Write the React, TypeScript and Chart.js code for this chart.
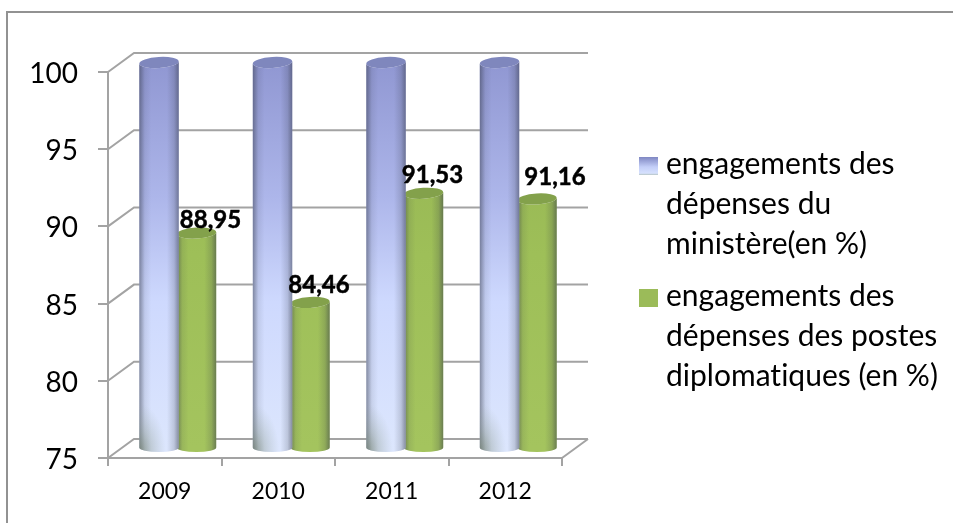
import React, { useEffect, useRef } from "react";
import { Chart, BarController, BarElement, registerables } from "chart.js";

const years = ["2009", "2010", "2011", "2012"];
const ministere = [100, 100, 100, 100];
const postes = [88.95, 84.46, 91.53, 91.16];
const yTicks = [75, 80, 85, 90, 95, 100];
const legendMinistere = ["engagements des", "dépenses du", "ministère(en %)"];
const legendPostes = ["engagements des", "dépenses des postes", "diplomatiques (en %)"];

// Hand placement of the value captions relative to the top of each green bar.
const captionShiftX = [14, 9, 9, 18];
const captionShiftY = [5, 9, 10, 13.5];

const FONT = "Lato";
const AXIS_GREY = "#a3a3a3";
const DEPTH_X = 26;
const DEPTH_Y = -19;
const CAP_RY = 5.5;
const CAP_TILT = -0.06;

const looks = [
  {
    cap: "#7f87bd",
    stops: [
      [0, "#9097d2"],
      [0.35, "#adb6ea"],
      [0.62, "#ced9fe"],
      [1, "#dce6fd"],
    ],
    foot: true,
  },
  {
    cap: "#83a14b",
    stops: [
      [0, "#92b152"],
      [0.5, "#9ebf58"],
      [1, "#a4c45e"],
    ],
    foot: false,
  },
];

// A bar drawn as an upright cylinder with an elliptical cap.
class CylinderElement extends BarElement {
  static id = "cylinder";
  static defaults = { ...BarElement.defaults };

  draw(ctx: CanvasRenderingContext2D) {
    const { x, y, base, width } = (this as any).getProps(["x", "y", "base", "width"]);
    const look = looks[(this as any).seriesIndex];
    const scale = (this as any).valueScale;
    const left = x - width / 2;
    const right = x + width / 2;
    const rx = width / 2;

    const outline = () => {
      ctx.beginPath();
      ctx.moveTo(left, y);
      ctx.lineTo(left, base);
      ctx.ellipse(x, base, rx, 4.5, 0, Math.PI, 0, true);
      ctx.lineTo(right, y);
      ctx.ellipse(x, y, rx, CAP_RY, CAP_TILT, 0, Math.PI, false);
      ctx.closePath();
    };

    ctx.save();
    const body = ctx.createLinearGradient(0, scale.top, 0, scale.bottom);
    look.stops.forEach(([at, colour]) => body.addColorStop(at as number, colour as string));
    outline();
    ctx.fillStyle = body;
    ctx.fill();

    const sides = ctx.createLinearGradient(left, 0, right, 0);
    sides.addColorStop(0, "rgba(50,55,70,0.5)");
    sides.addColorStop(0.14, "rgba(50,55,70,0.1)");
    sides.addColorStop(0.3, "rgba(50,55,70,0)");
    sides.addColorStop(0.7, "rgba(50,55,70,0)");
    sides.addColorStop(0.88, "rgba(50,55,70,0.18)");
    sides.addColorStop(1, "rgba(50,55,70,0.5)");
    outline();
    ctx.fillStyle = sides;
    ctx.fill();

    if (look.foot) {
      // Soft shadow at the foot of the cylinder, narrower than it is tall.
      outline();
      ctx.save();
      ctx.clip();
      ctx.translate(left, base + 4);
      ctx.scale(0.55, 1);
      const foot = ctx.createRadialGradient(0, 0, 0, 0, 0, 48);
      foot.addColorStop(0, "rgba(115,130,110,0.7)");
      foot.addColorStop(0.45, "rgba(130,145,130,0.32)");
      foot.addColorStop(1, "rgba(150,165,160,0)");
      ctx.fillStyle = foot;
      ctx.fillRect(-10, -60, 90, 70);
      ctx.restore();
    }

    ctx.beginPath();
    ctx.ellipse(x, y, rx, CAP_RY, CAP_TILT, 0, Math.PI * 2);
    ctx.fillStyle = look.cap;
    ctx.fill();
    ctx.restore();
  }
}

class CylinderController extends BarController {
  static id = "cylinder";
  static defaults = { ...BarController.defaults, dataElementType: "cylinder" };
  static overrides = BarController.overrides;

  // Tell each bar which series it belongs to, so it can pick its colours.
  updateElements(bars: any[], start: number, count: number, mode: any) {
    super.updateElements(bars, start, count, mode);
    bars.forEach((bar) => {
      bar.seriesIndex = (this as any).index;
      bar.valueScale = (this as any).chart.scales.y;
    });
  }
}

Chart.register(...registerables, CylinderElement, CylinderController);

// Walls and floor of the box, plus the outer frame of the figure.
const boxPlugin = {
  id: "box",
  beforeDatasetsDraw(chart: any) {
    const { ctx, scales, width, height } = chart;
    const { x: xs, y: ys } = scales;

    ctx.save();
    ctx.strokeStyle = "#929292";
    ctx.lineWidth = 2;
    ctx.beginPath();
    ctx.moveTo(7, height);
    ctx.lineTo(7, 12);
    ctx.lineTo(width, 12);
    ctx.stroke();

    ctx.strokeStyle = AXIS_GREY;
    ctx.lineWidth = 2;
    ctx.beginPath();
    yTicks.forEach((tick) => {
      const py = ys.getPixelForValue(tick);
      ctx.moveTo(xs.left, py);
      ctx.lineTo(xs.left + DEPTH_X, py + DEPTH_Y);
      ctx.lineTo(xs.right + DEPTH_X, py + DEPTH_Y);
    });
    ctx.moveTo(xs.right, ys.bottom);
    ctx.lineTo(xs.right + DEPTH_X, ys.bottom + DEPTH_Y);
    ctx.stroke();
    ctx.restore();

    // The bars stand halfway into the box.
    ctx.save();
    ctx.translate(DEPTH_X / 2, DEPTH_Y / 2);
  },
  afterDatasetsDraw(chart: any) {
    const { ctx } = chart;
    ctx.restore();

    ctx.save();
    ctx.fillStyle = "#000";
    ctx.strokeStyle = "#000";
    ctx.lineWidth = 0.5;
    ctx.font = `bold 24px ${FONT}`;
    ctx.textAlign = "center";
    ctx.textBaseline = "alphabetic";
    chart.getDatasetMeta(1).data.forEach((bar: any, i: number) => {
      const text = postes[i].toFixed(2).replace(".", ",");
      const tx = bar.x + DEPTH_X / 2 + captionShiftX[i];
      const ty = bar.y + DEPTH_Y / 2 - captionShiftY[i];
      ctx.fillText(text, tx, ty);
      ctx.strokeText(text, tx, ty);
    });
    ctx.restore();
  },
};

// Series key to the right of the plot, with wrapped labels.
const keyPlugin = {
  id: "seriesKey",
  afterDraw(chart: any) {
    const { ctx } = chart;
    const groups = [
      { lines: legendMinistere, baseline: 174, swatchTop: 157 },
      { lines: legendPostes, baseline: 306, swatchTop: 289 },
    ];
    ctx.save();
    groups.forEach((group, g) => {
      if (g === 0) {
        const fill = ctx.createLinearGradient(0, group.swatchTop, 0, group.swatchTop + 18);
        fill.addColorStop(0, "#7f87c2");
        fill.addColorStop(0.55, "#c3cef8");
        fill.addColorStop(0.9, "#d6e1fd");
        fill.addColorStop(1, "#b5c4c4");
        ctx.fillStyle = fill;
      } else {
        ctx.fillStyle = "#9bbb59";
      }
      ctx.fillRect(639, group.swatchTop, 19, 18);

      ctx.fillStyle = "#000";
      ctx.font = `30px ${FONT}`;
      // A hair of tracking keeps "ti" as two separate letters.
      (ctx as any).letterSpacing = "0.01px";
      ctx.textAlign = "left";
      ctx.textBaseline = "alphabetic";
      group.lines.forEach((line, i) => ctx.fillText(line, 666, group.baseline + i * 40));
    });
    ctx.restore();
  },
};

export default function App() {
  const canvasRef = useRef<HTMLCanvasElement | null>(null);

  useEffect(() => {
    const chart = new Chart(canvasRef.current as HTMLCanvasElement, {
      type: "cylinder" as any,
      data: {
        labels: years,
        datasets: [
          { label: legendMinistere.join(" "), data: ministere, base: 75, backgroundColor: "#a9b2e6", clip: false },
          { label: legendPostes.join(" "), data: postes, base: 75, backgroundColor: "#9bbb59", clip: false },
        ],
      },
      options: {
        responsive: false,
        animation: false,
        events: [],
        layout: { padding: { left: 0, top: 72, right: 391, bottom: 0 } },
        datasets: { cylinder: { categoryPercentage: 0.66, barPercentage: 1.053 } } as any,
        plugins: { legend: { display: false }, tooltip: { enabled: false } },
        scales: {
          x: {
            type: "category",
            offset: true,
            border: { color: AXIS_GREY, width: 2 },
            grid: { drawOnChartArea: false, offset: true, color: AXIS_GREY, lineWidth: 2, tickLength: 8 },
            ticks: { color: "#000", font: { family: FONT, size: 23 }, padding: 12, maxRotation: 0 },
            afterFit(scale: any) {
              scale.height = 65;
            },
          },
          y: {
            type: "linear",
            min: 75,
            max: 100,
            afterBuildTicks(scale: any) {
              scale.ticks = yTicks.map((value) => ({ value }));
            },
            border: { color: AXIS_GREY, width: 2 },
            grid: { drawOnChartArea: false, color: AXIS_GREY, lineWidth: 2, tickLength: 10 },
            ticks: { color: "#000", font: { family: FONT, size: 28 }, padding: 20, labelOffset: 2 },
            afterFit(scale: any) {
              scale.width = 108;
            },
          },
        },
      } as any,
      plugins: [boxPlugin, keyPlugin],
    } as any);
    return () => chart.destroy();
  }, []);

  return (
    <div style={{ position: "fixed", left: 0, top: 0, width: 953, height: 523, background: "#fff" }}>
      <canvas ref={canvasRef} width={953} height={523} style={{ display: "block" }} />
    </div>
  );
}
